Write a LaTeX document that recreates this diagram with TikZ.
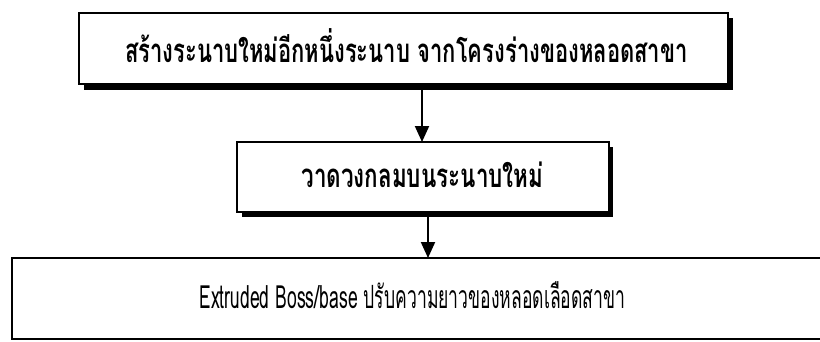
\documentclass[tikz,border=0pt]{standalone}
\usepackage{fontspec}
\usepackage{graphicx}
\newfontfamily\thaifont[Script=Thai]{Loma}
\usetikzlibrary{arrows.meta}
\tikzset{
  box/.style={draw=black, line width=2pt, fill=white},
  shadowbar/.style={fill=black, draw=none},
  flowarrow/.style={line width=2pt, -{Triangle[width=14pt,length=16pt]}},
  lbl/.style={font=\thaifont\bfseries\fontsize{22}{26}\selectfont, inner sep=0pt, anchor=base},
  lbln/.style={font=\thaifont\fontsize{20}{24}\selectfont, inner sep=0pt, anchor=base}
}
\begin{document}
\begin{tikzpicture}[x=1pt,y=-1pt]
\useasboundingbox (0,0) rectangle (820,341);
% box 1 with shadow
\fill[shadowbar] (84,84) rectangle (733,90);
\fill[shadowbar] (728,18) rectangle (733,90);
\draw[box] (79,13) rectangle (728,84);
\coordinate (b1s) at (422,90);
\node[lbl] (t1) at (406.5,62) {\scalebox{1.0}[1.5]{สร้างระนาบใหม่อีกหนึ่งระนาบ จากโครงร่างของหลอดสาขา}};
% box 2 with shadow
\fill[shadowbar] (242,212) rectangle (613,217);
\fill[shadowbar] (609,147) rectangle (613,217);
\draw[box] (237,142) rectangle (609,212);
\node[lbl] (t2) at (422.5,187) {\scalebox{1.02}[1.5]{วาดวงกลมบนระนาบใหม่}};
\coordinate (b2n) at (422,142);
\coordinate (b2s) at (428,217);
% box 3
\draw[box] (12,258) rectangle (822,339);
\node[lbln] (t3) at (412.5,308) {\scalebox{0.878}[1.6]{Extruded Boss/base ปรับความยาวของหลอดเลือดสาขา}};
\coordinate (b3n) at (428,258);
% arrows
\draw[flowarrow] (b1s) -- (b2n);
\draw[flowarrow] (b2s) -- (b3n);
\end{tikzpicture}
\end{document}
